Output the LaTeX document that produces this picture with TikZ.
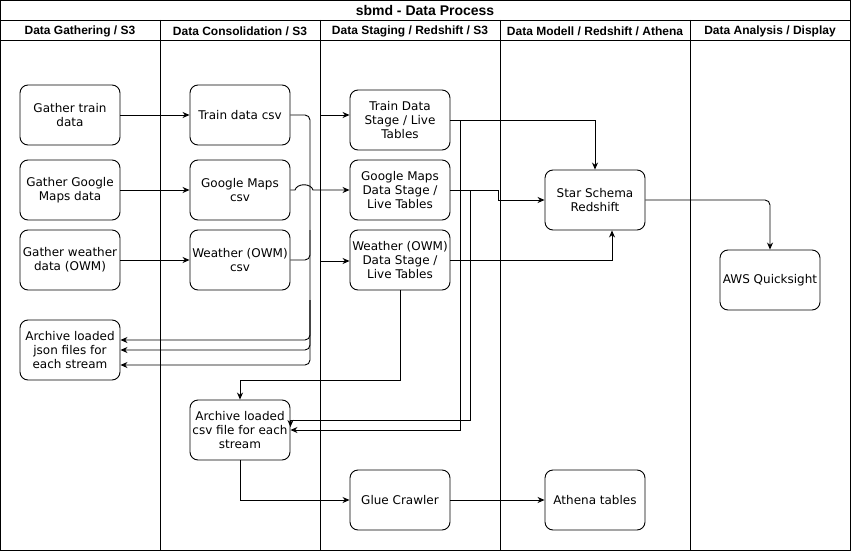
\documentclass[tikz,border=0pt]{standalone}
\usepackage{fontspec}
\setmainfont{DejaVu Sans}
\newfontfamily\headfont{Liberation Sans}
\usetikzlibrary{arrows.meta}
\newcommand{\boxfont}{\fontsize{12}{14}\selectfont}
\begin{document}
\begin{tikzpicture}[x=1pt,y=-1pt,line width=0.9pt,
    box/.style={draw,rounded corners=8pt,minimum width=100pt,minimum height=60pt,inner sep=1pt,align=center,font=\boxfont},
    conn/.style={-{Stealth[length=7pt,width=6pt]}},
    lanehead/.style={font=\headfont\bfseries\fontsize{12}{14}\selectfont}]
    \useasboundingbox (0,0) rectangle (851,551);
    %\draw[help lines] (0,0) grid[step=50] (850,550);
    % pool and lanes
    \draw (0.5,0.5) rectangle (850.5,550.5);
    \draw (0.5,20) -- (850.5,20);
    \draw (0.5,40) -- (850.5,40);
    \foreach \x in {160,320,500,690}
        \draw (\x,20) -- (\x,550.5);
    \node[font=\headfont\bfseries\fontsize{14}{16}\selectfont] (title) at (425,10) {sbmd - Data Process};
    \foreach \x/\t in {80/{Data Gathering / S3}, 240/{Data Consolidation / S3}, 410/{Data Staging / Redshift / S3}, 595/{Data Modell / Redshift / Athena}, 770/{Data Analysis / Display}}
        \node[lanehead] at (\x,31) {\t};
    % boxes
    \node[box] (tgather) at (70,115) {Gather train\\data};
    \node[box] (ggather) at (70,190) {Gather Google\\Maps data};
    \node[box] (wgather) at (70,260) {Gather weather\\data (OWM)};
    \node[box] (json) at (70,350) {Archive loaded\\json files for\\each stream};
    \node[box] (tcsv) at (240,115) {Train data csv};
    \node[box] (gcsv) at (240,190) {Google Maps\\csv};
    \node[box] (wcsv) at (240,260) {Weather (OWM)\\csv};
    \node[box] (archcsv) at (240,430) {Archive loaded\\csv file for each\\stream};
    \node[box] (tstage) at (400,120) {Train Data\\Stage / Live\\Tables};
    \node[box] (gstage) at (400,190) {Google Maps\\Data Stage /\\Live Tables};
    \node[box] (wstage) at (400,260) {Weather (OWM)\\Data Stage /\\Live Tables};
    \node[box] (glue) at (400,500) {Glue Crawler};
    \node[box] (star) at (595,200) {Star Schema\\Redshift};
    \node[box] (athena) at (595,500) {Athena tables};
    \node[box] (quick) at (770,280) {AWS Quicksight};
    \coordinate (tin) at (320,115);
    \coordinate (win) at (320,261);
    % gathering to consolidation
    \draw[conn] (tgather) -- (tcsv);
    \draw[conn] (ggather) -- (gcsv);
    \draw[conn] (wgather) -- (wcsv);
    % consolidation to json archive
    \draw[conn,rounded corners=5pt] (tcsv.east) -| (310,340) -- (json.east |- 0,340);
    \draw[rounded corners=5pt] (wcsv.east) -| (310,230);
    \draw[conn,rounded corners=5pt] (310,300) |- (json.east);
    \draw[conn,rounded corners=5pt] (310,300) |- (json.east |- 0,365);
    \draw[conn] (gcsv.east) -- (295,190) .. controls (297,183) and (311,183) .. (313,190) -- (gstage.west);
    % staging
    \draw[conn] (tin) -- (tstage.west |- tin);
    \draw[conn] (win) -- (wstage.west |- win);
    \draw[conn] (tstage.east) -| (star.north);
    \draw[conn] (tstage.east) -| (460,430) -- (archcsv.east);
    \draw[conn] (gstage.east) -| (470,420) -- (archcsv.east |- 0,420) -- ++(0,7);
    \draw[conn] (gstage.east) -- (498,190) -- (498,200) -- (star.west);
    \draw[conn] (wstage.east) -| (star.south -| 612,0);
    \draw[conn] (wstage.south) -- (400,380) -| (archcsv.north);
    \draw[conn] (archcsv.south) |- (glue.west);
    \draw[conn] (glue) -- (athena);
    \draw[conn,rounded corners=5pt] (star.east) -| (quick.north);
\end{tikzpicture}
\end{document}
